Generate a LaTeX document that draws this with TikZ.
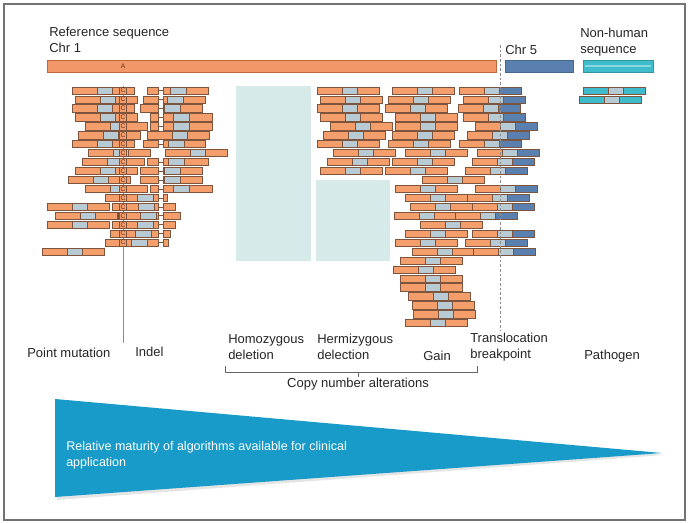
\documentclass[tikz,border=0pt]{standalone}
\usepackage{fontspec}
\setmainfont{Liberation Sans}
\usetikzlibrary{calc}
\definecolor{orng}{RGB}{244,158,108}
\definecolor{segline}{RGB}{125,85,62}
\definecolor{lblue}{RGB}{184,203,212}
\definecolor{dblue}{RGB}{90,128,176}
\definecolor{cyanc}{RGB}{62,188,204}
\definecolor{tealbox}{RGB}{214,234,234}
\definecolor{tri}{RGB}{24,155,201}
\definecolor{chrone}{RGB}{242,152,104}
\definecolor{chroneline}{RGB}{190,104,64}
\definecolor{cmark}{RGB}{110,45,25}
\newcommand\sg[4]{\draw[seg,fill=#4] ({#2},{90.5+8.95*(#1-1)-3.6}) rectangle ({#3},{90.5+8.95*(#1-1)+3.6});}
\newcommand\rd[2]{\sg{#1}{#2}{#2+25}{orng}\sg{#1}{#2+25}{#2+40}{lblue}\sg{#1}{#2+40}{#2+62}{orng}}
\newcommand\tl[2]{\sg{#1}{#2}{#2+25}{orng}\sg{#1}{#2+25}{#2+40}{lblue}\sg{#1}{#2+40}{#2+62}{dblue}}
\newcommand\pg[2]{\sg{#1}{#2}{#2+25}{cyanc}\sg{#1}{#2+25}{#2+40}{lblue}\sg{#1}{#2+40}{#2+62}{cyanc}}
\newcommand\gapline[1]{\draw[seg] (158,{90.5+8.95*(#1-1)}) -- (163,{90.5+8.95*(#1-1)});}
\newcommand\ind[4]{\sg{#1}{#2}{158}{orng}\gapline{#1}\sg{#1}{163}{#3}{orng}\sg{#1}{#3}{#3+16}{lblue}\sg{#1}{#3+16}{#4}{orng}}
\newcommand\indL[4]{\sg{#1}{#2}{#3}{orng}\sg{#1}{#3}{#3+16}{lblue}\sg{#1}{#3+16}{158}{orng}\gapline{#1}\sg{#1}{163}{#4}{orng}}
\newcommand\cm[1]{\sg{#1}{119.5}{126.5}{orng}\node[font=\fontsize{5}{5}\selectfont,text=cmark,inner sep=0] (cm#1) at (123,{90.5+8.95*(#1-1)}) {C};}
\tikzset{
  seg/.style={draw=segline,line width=0.5pt},
  lbl/.style={font=\fontsize{9.75}{12}\selectfont,inner sep=0,align=left,text=black!85},
}
\begin{document}
\begin{tikzpicture}[x=0.75pt,y=-0.75pt]
\useasboundingbox (0,0) rectangle (691,523);
\fill[white] (0,0) rectangle (691,523);
\draw[black!55,line width=1.1pt] (4,4) rectangle (685,520);
% titles
\node[lbl,anchor=west] (refseq) at (49,39.5) {Reference sequence\\Chr 1};
\node[lbl,anchor=west] (chr5) at (505,50) {Chr 5};
\node[lbl,anchor=west] (nonhuman) at (580,42) {Non-human\\sequence};
% reference bars
\draw[chroneline,fill=chrone,line width=0.6pt] (47,60) rectangle (496,72);
\node[font=\fontsize{5}{5}\selectfont,text=cmark,inner sep=0] (refA) at (123,66.5) {A};
\draw[dblue!80!black,fill=dblue,line width=0.6pt] (505,60) rectangle (573,72);
\draw[cyanc!80!black,fill=cyanc,line width=0.6pt] (583,60) rectangle (653,72);
\fill[cyanc!60!white] (585,65) rectangle (651,67);
% teal boxes
\fill[tealbox] (236,86) rectangle (311,261);
\fill[tealbox] (316,180) rectangle (390,261);
% point mutation line
\draw[black!45,line width=0.7pt] (123,86) -- (123,343);
% left group
\rd{1}{72}\cm{1}\ind{1}{147}{170}{208}
\rd{2}{75}\cm{2}\ind{2}{143}{167}{205}
\rd{3}{72}\cm{3}\ind{3}{140}{164}{202}
\rd{4}{75}\cm{4}\ind{4}{150}{173}{212}
\rd{5}{85}\cm{5}\ind{5}{150}{173}{212}
\rd{6}{78}\cm{6}\rd{6}{147}
\rd{7}{72}\cm{7}\ind{7}{143}{168}{205}
\rd{8}{88}\cm{8}\rd{8}{165}
\rd{9}{82}\cm{9}\ind{9}{147}{168}{208}
\rd{10}{75}\cm{10}\ind{10}{140}{164}{202}
\rd{11}{68}\cm{11}\ind{11}{140}{164}{202}
\rd{12}{85}\cm{12}\ind{12}{150}{173}{212}
\indL{13}{105}{137}{167}\cm{13}
\rd{14}{47}\indL{14}{112}{138}{175}\cm{14}
\rd{15}{55}\indL{15}{118}{140}{180}\cm{15}
\rd{16}{47}\indL{16}{112}{137}{175}\cm{16}
\indL{17}{110}{135}{170}\cm{17}
\indL{18}{105}{131}{168}\cm{18}
\rd{19}{42}
% middle group: column A
\rd{1}{317}\rd{2}{320}\rd{3}{317}\rd{4}{320}\rd{5}{330}
\rd{6}{323}\rd{7}{317}\rd{8}{333}\rd{9}{327}\rd{10}{320}
% column B
\rd{1}{392}\rd{2}{388}\rd{3}{385}\rd{4}{395}\rd{5}{395}
\rd{6}{392}\rd{7}{388}\rd{8}{405}\rd{9}{392}\rd{10}{385}
% column C (translocation)
\tl{1}{459}\tl{2}{463}\tl{3}{458}\tl{4}{463}\tl{5}{475}
\tl{6}{467}\tl{7}{459}\tl{8}{477}\tl{9}{472}\tl{10}{465}
% gain
\rd{11}{422}
\rd{12}{395}\tl{12}{475}
\rd{13}{405}\tl{13}{467}
\rd{14}{410}\tl{14}{472}
\rd{15}{394}\tl{15}{455}
\rd{16}{420}
\rd{17}{405}\tl{17}{472}
\rd{18}{395}\tl{18}{465}
\rd{19}{412}\tl{19}{473}
\rd{20}{400}\rd{21}{393}\rd{22}{400}\rd{23}{400}
\rd{24}{408}\rd{25}{412}\rd{26}{413}\rd{27}{405}
% pathogen reads
\pg{1}{583}\pg{2}{579}
% translocation breakpoint dashed line
\draw[black!45,dash pattern=on 2pt off 1.5pt,line width=0.5pt] (500.5,45) -- (500.5,330);
% labels
\node[lbl,anchor=west] (pointmut) at (27,353) {Point mutation};
\node[lbl,anchor=west] (indel) at (135,352) {Indel};
\node[lbl,anchor=west] (homo) at (228,347) {Homozygous\\deletion};
\node[lbl,anchor=west] (hemi) at (317,347) {Hermizygous\\delection};
\node[lbl,anchor=west] (gain) at (423,356) {Gain};
\node[lbl,anchor=west] (trans) at (470,347) {Translocation\\breakpoint};
\node[lbl,anchor=west] (pathogen) at (584,356) {Pathogen};
% bracket
\coordinate (bl) at (225,372);
\coordinate (br) at (477,372);
\coordinate (bm) at (358,372);
\draw[black!60,line width=0.6pt] ($(bl)+(0,-6)$) -- (bl) -- (br) -- ($(br)+(0,-6)$);
\draw[black!60,line width=0.6pt] (bm) -- ++(0,5);
\node[lbl] (cna) at (358,384) {Copy number alterations};
% triangle
\fill[black!10] (57,401) -- (664,455) -- (57,500) -- cycle;
\fill[tri] (55,399) -- (662,453) -- (55,497) -- cycle;
\node[font=\fontsize{9.4}{12}\selectfont,text=white,inner sep=0,align=left,anchor=west] (maturity) at (66,455) {Relative maturity of algorithms available for clinical\\application};
\end{tikzpicture}
\end{document}
